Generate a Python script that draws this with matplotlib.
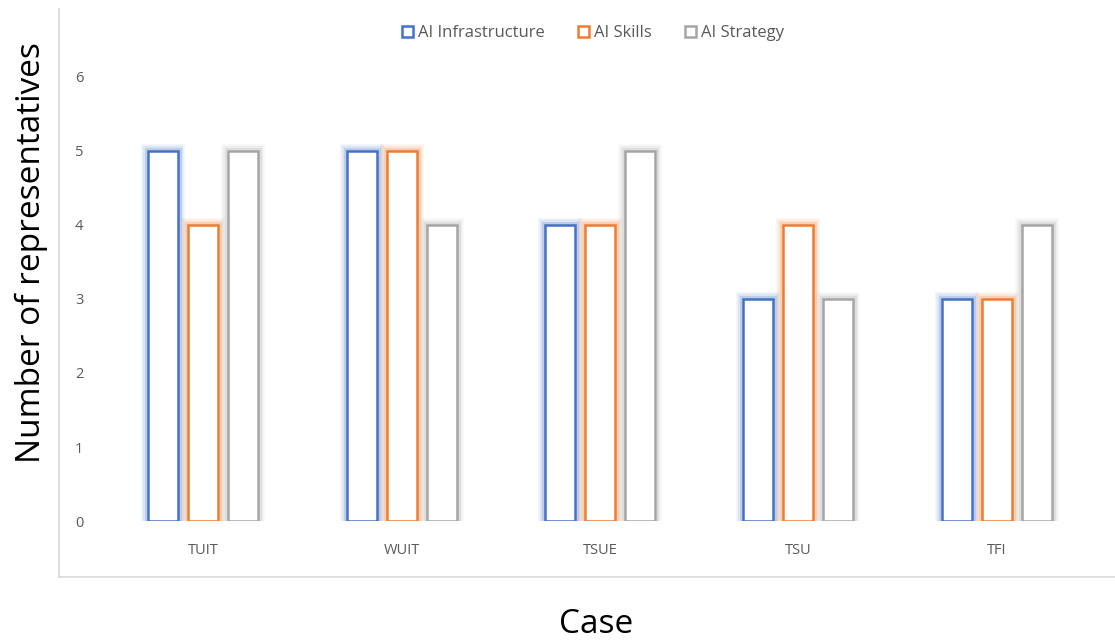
import numpy as np
import matplotlib
matplotlib.use("Agg")
import matplotlib.pyplot as plt
import matplotlib.patheffects as pe
from matplotlib.patches import Rectangle
from matplotlib.lines import Line2D

# ---------- data ----------
cases = ["TUIT", "WUIT", "TSUE", "TSU", "TFI"]
series = ["AI Infrastructure", "AI Skills", "AI Strategy"]
infrastructure = [5, 5, 4, 3, 3]
skills = [4, 5, 4, 4, 3]
strategy = [5, 4, 5, 3, 4]
yticks = [0, 1, 2, 3, 4, 5, 6]

colors = ["#4472C4", "#ED7D31", "#A5A5A5"]
values = [infrastructure, skills, strategy]

plt.rcParams["font.family"] = ["Open Sans", "DejaVu Sans"]

fig = plt.figure(figsize=(11.15, 6.41), dpi=100)
ax = fig.add_axes([0.0933, 0.1872, 0.8897, 0.6927])

x = np.arange(len(cases))
width = 0.151
step = 0.2015
for i, (vals, c) in enumerate(zip(values, colors)):
    bars = ax.bar(x + (i - 1) * step, vals, width, facecolor="white",
                  edgecolor=c, linewidth=1.8, label=series[i])
    # soft glow round each outline
    for b in bars:
        b.set_path_effects([
            pe.Stroke(linewidth=10, foreground=c, alpha=0.07),
            pe.Stroke(linewidth=7.5, foreground=c, alpha=0.12),
            pe.Stroke(linewidth=5, foreground=c, alpha=0.2),
            pe.Normal(),
        ])

ax.set_xlim(-0.5, len(cases) - 0.5)
ax.set_ylim(0, 6)
ax.set_yticks(yticks)
ax.set_xticks(x)
ax.set_xticklabels(cases)
for s in ax.spines.values():
    s.set_visible(False)
ax.tick_params(axis="y", length=0, pad=15, labelsize=10.5, labelcolor="#595959")
ax.tick_params(axis="x", length=0, pad=16, labelsize=10.5, labelcolor="#595959")

fig.text(0.028, 0.606, "Number of representatives", rotation=90,
         ha="center", va="center", fontsize=24, color="black")
fig.text(0.5345, 0.026, "Case", ha="center", va="center", fontsize=24,
         color="black")

# chart-area border (left + bottom only visible)
fig.add_artist(Line2D([0.053, 0.053], [0.100, 0.986], color="#D9D9D9", lw=1.2))
fig.add_artist(Line2D([0.053, 1.0], [0.100, 0.100], color="#D9D9D9", lw=1.2))

handles = [Rectangle((0, 0), 1, 1, facecolor="white", edgecolor=c, lw=1.8)
           for c in colors]
fig.legend(handles, series, loc="center", bbox_to_anchor=(0.532, 0.948),
           ncol=3, frameon=False, fontsize=12, handlelength=0.65,
           handleheight=0.65, handletextpad=0.3, columnspacing=2.0,
           labelcolor="#595959")

fig.savefig("out.png", dpi=100)
